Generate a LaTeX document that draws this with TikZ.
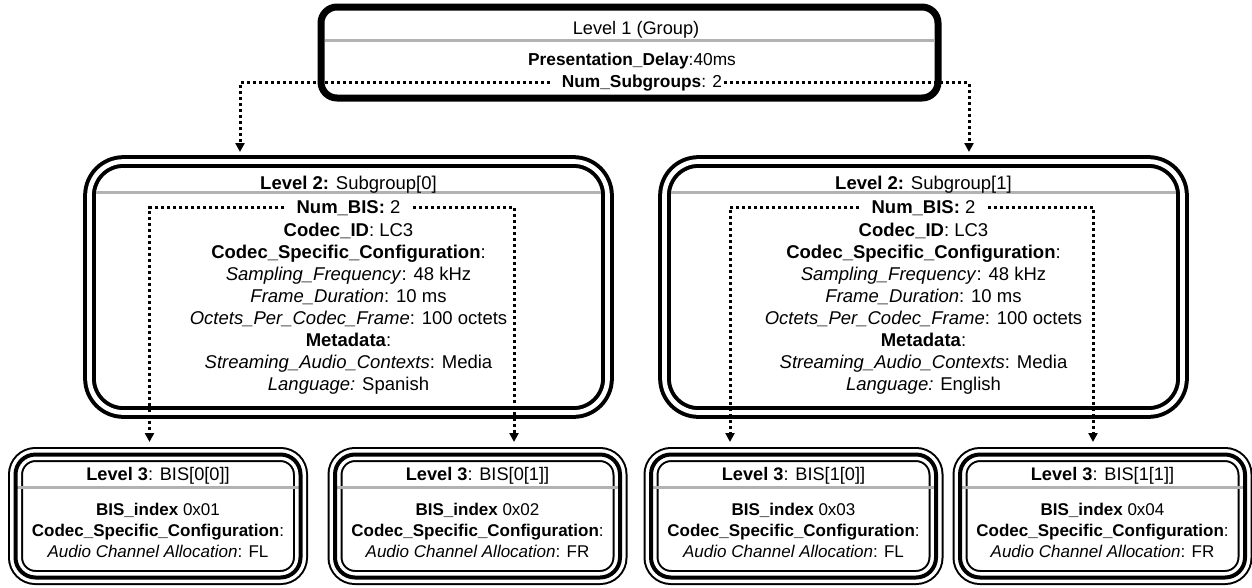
\documentclass[tikz,border=0pt]{standalone}
\usepackage{fontspec}
\setmainfont{Liberation Sans}
\usetikzlibrary{arrows.meta,positioning}

\newcommand{\grpfont}{\fontsize{17.3}{21.5}\selectfont}
\newcommand{\headfont}{\fontsize{18.2}{22}\selectfont}
\newcommand{\subfont}{\fontsize{18.5}{22}\selectfont}
\newcommand{\bisfont}{\fontsize{17}{21}\selectfont}

\tikzset{
  grp/.style={rectangle, draw, line width=7pt, rounded corners=16pt,
    minimum width=617pt, minimum height=91pt, inner sep=0pt, outer sep=0pt},
  subgrp/.style={rectangle, draw, double, line width=4pt, double distance=4.7pt,
    rounded corners=34pt, minimum width=518pt, minimum height=251pt, inner sep=0pt, outer sep=0pt},
  bis/.style={rectangle, minimum width=285pt, minimum height=123pt, inner sep=0pt, outer sep=0pt},
  bisline/.style={draw, double, line width=2pt, double distance=11pt, rounded corners=20pt},
  bismid/.style={draw, line width=4pt, rounded corners=20pt},
  graybar/.style={draw=black!30, line width=3pt},
  txt/.style={align=center, inner sep=0pt},
  link/.style={line width=3pt, dash pattern=on 3pt off 3pt, -{Triangle[length=9pt,width=9pt]}},
}

\begin{document}
\begin{tikzpicture}[x=1pt, y=-1pt]
    \useasboundingbox (0,0) rectangle (1252,587);
    \def\gx{629.5}
    \def\sa{348.5}
    \def\sb{923.5}
    \def\ly{516}

    % level 1
    \node(g) [grp] at (\gx,52.5) {};
    \draw[graybar, shorten <=3.5pt, shorten >=3.5pt] ([yshift=-33.7pt]g.north west) -- ([yshift=-33.7pt]g.north east);
    \node(gt) [txt, anchor=base, font=\headfont] at (636,34.3) {Level 1 (Group)};
    \node(gd) [txt, anchor=base, font=\grpfont] at (632,65.7) {\textbf{Presentation\_Delay}:40ms};
    \node(gn) [txt, anchor=base, font=\grpfont] at (642,87.3) {\textbf{Num\_Subgroups}: 2};

    % level 2
    \node(s0) [subgrp] at (\sa,287) {};
    \draw[graybar, shorten <=6.4pt, shorten >=6.4pt] ([yshift=-31.3pt]s0.north west) -- ([yshift=-31.3pt]s0.north east);
    \node(s0t) [txt, anchor=base, font=\subfont] at (\sa,189) {\textbf{Level 2:} Subgroup[0]};
    \node(s0n) [txt, anchor=base, font=\subfont] at (\sa,213) {\textbf{Num\_BIS:} 2};
    \node(s0b) [txt, anchor=north, font=\subfont] at (\sa,222.5) {\textbf{Codec\_ID}: LC3\\
      \textbf{Codec\_Specific\_Configuration}:\\
      \textit{Sampling\_Frequency}: 48 kHz\\
      \textit{Frame\_Duration}: 10 ms\\
      \textit{Octets\_Per\_Codec\_Frame}: 100 octets\\
      \textbf{Metadata}:\\
      \textit{Streaming\_Audio\_Contexts}: Media\\
      \textit{Language:} Spanish};

    \node(s1) [subgrp] at (\sb,287) {};
    \draw[graybar, shorten <=6.4pt, shorten >=6.4pt] ([yshift=-31.3pt]s1.north west) -- ([yshift=-31.3pt]s1.north east);
    \node(s1t) [txt, anchor=base, font=\subfont] at (\sb,189) {\textbf{Level 2:} Subgroup[1]};
    \node(s1n) [txt, anchor=base, font=\subfont] at (\sb,213) {\textbf{Num\_BIS:} 2};
    \node(s1b) [txt, anchor=north, font=\subfont] at (\sb,222.5) {\textbf{Codec\_ID}: LC3\\
      \textbf{Codec\_Specific\_Configuration}:\\
      \textit{Sampling\_Frequency}: 48 kHz\\
      \textit{Frame\_Duration}: 10 ms\\
      \textit{Octets\_Per\_Codec\_Frame}: 100 octets\\
      \textbf{Metadata}:\\
      \textit{Streaming\_Audio\_Contexts}: Media\\
      \textit{Language:} English};

    % level 3
    \node(b00) [bis] at (158,\ly) {};
    \node(b01) [bis] at (477.5,\ly) {};
    \node(b10) [bis] at (793.5,\ly) {};
    \node(b11) [bis] at (1102.5,\ly) {};
    \draw[bisline] (b00.north west) rectangle (b00.south east);
    \draw[bisline] (b01.north west) rectangle (b01.south east);
    \draw[bisline] (b10.north west) rectangle (b10.south east);
    \draw[bisline] (b11.north west) rectangle (b11.south east);
    \draw[graybar] ([yshift=-32.5pt]b00.north west) -- ([yshift=-32.5pt]b00.north east);
    \draw[graybar] ([yshift=-32.5pt]b01.north west) -- ([yshift=-32.5pt]b01.north east);
    \draw[graybar] ([yshift=-32.5pt]b10.north west) -- ([yshift=-32.5pt]b10.north east);
    \draw[graybar] ([yshift=-32.5pt]b11.north west) -- ([yshift=-32.5pt]b11.north east);
    \draw[bismid] (b00.north west) rectangle (b00.south east);
    \draw[bismid] (b01.north west) rectangle (b01.south east);
    \draw[bismid] (b10.north west) rectangle (b10.south east);
    \draw[bismid] (b11.north west) rectangle (b11.south east);

    \node(b00t) [txt, anchor=base, font=\headfont] at (158,480) {\textbf{Level 3}: BIS[0[0]]};
    \node(b00b) [txt, anchor=north, font=\bisfont] at (158,502.6) {\textbf{BIS\_index} 0x01\\
      \textbf{Codec\_Specific\_Configuration}:\\
      \textit{Audio Channel Allocation}: FL};
    \node(b01t) [txt, anchor=base, font=\headfont] at (477.5,480) {\textbf{Level 3}: BIS[0[1]]};
    \node(b01b) [txt, anchor=north, font=\bisfont] at (477.5,502.6) {\textbf{BIS\_index} 0x02\\
      \textbf{Codec\_Specific\_Configuration}:\\
      \textit{Audio Channel Allocation}: FR};
    \node(b10t) [txt, anchor=base, font=\headfont] at (793.5,480) {\textbf{Level 3}: BIS[1[0]]};
    \node(b10b) [txt, anchor=north, font=\bisfont] at (793.5,502.6) {\textbf{BIS\_index} 0x03\\
      \textbf{Codec\_Specific\_Configuration}:\\
      \textit{Audio Channel Allocation}: FL};
    \node(b11t) [txt, anchor=base, font=\headfont] at (1102.5,480) {\textbf{Level 3}: BIS[1[1]]};
    \node(b11b) [txt, anchor=north, font=\bisfont] at (1102.5,502.6) {\textbf{BIS\_index} 0x04\\
      \textbf{Codec\_Specific\_Configuration}:\\
      \textit{Audio Channel Allocation}: FR};

    % links
    \coordinate (a0) at (240,152);
    \coordinate (a1) at (969,152);
    \coordinate (a00) at (149.5,442);
    \coordinate (a01) at (514,442);
    \coordinate (a10) at (730,442);
    \coordinate (a11) at (1093,442);
    \draw[link] ([xshift=-12pt]gn.west) -| (a0);
    \draw[link] ([xshift=2pt]gn.east) -| (a1);
    \draw[link] ([xshift=-12pt]s0n.west) -| (a00);
    \draw[link] ([xshift=12pt]s0n.east) -| (a01);
    \draw[link] ([xshift=-12pt]s1n.west) -| (a10);
    \draw[link] ([xshift=12pt]s1n.east) -| (a11);
\end{tikzpicture}
\end{document}
